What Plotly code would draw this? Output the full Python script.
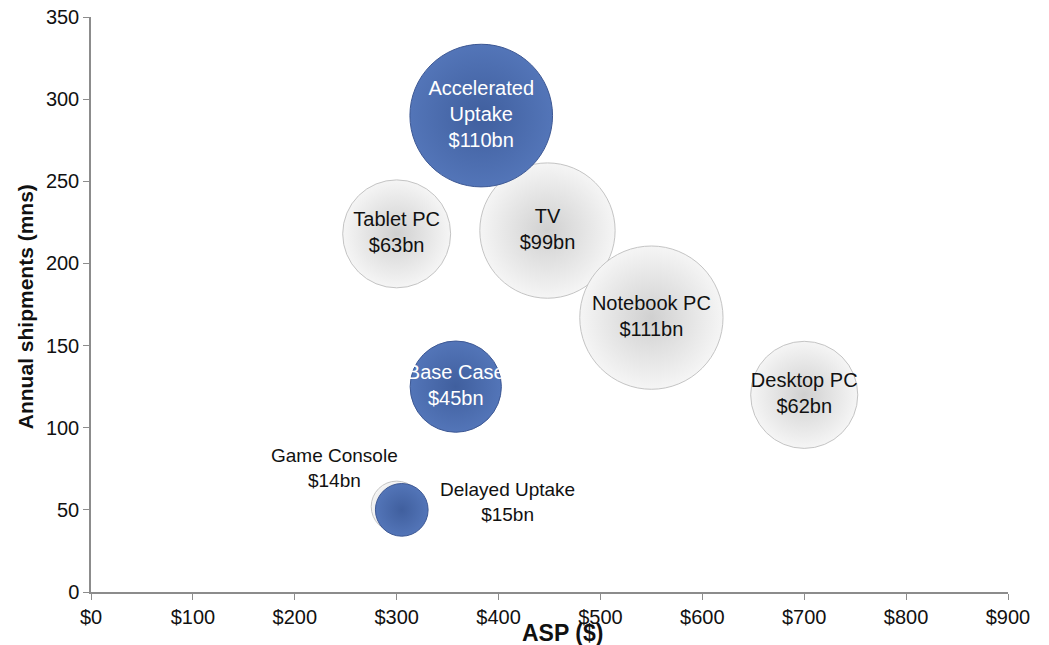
import plotly.graph_objects as go

# grey series: product categories
prod_names = ["Tablet PC", "TV", "Notebook PC", "Desktop PC", "Game Console"]
prod_asp = [300, 448, 550, 700, 300]
prod_units = [218, 220, 167, 120, 52]
prod_value = [63, 99, 111, 62, 14]

# blue series: scenarios
scen_names = ["Base Case", "Delayed Uptake", "Accelerated<br>Uptake"]
scen_asp = [358, 305, 383]
scen_units = [125, 50, 290]
scen_value = [45, 15, 110]

x_ticks = [0, 100, 200, 300, 400, 500, 600, 700, 800, 900]
y_ticks = [0, 50, 100, 150, 200, 250, 300, 350]

FONT = "Liberation Sans, Arial, sans-serif"
SIZEREF = 2 / 13.6 ** 2
TXT = "#111111"

prod_text = [f"{n}<br>${v}bn" for n, v in zip(prod_names, prod_value)]
scen_text = [f"{n}<br>${v}bn" for n, v in zip(scen_names, scen_value)]

fig = go.Figure()

# labels drawn inside bubbles, except the small ones which get annotations
fig.add_trace(go.Scatter(
    x=prod_asp, y=prod_units,
    mode="markers+text",
    text=prod_text[:4] + [""],
    textposition="middle center",
    textfont=dict(family=FONT, size=20, color=TXT),
    marker=dict(
        size=prod_value, sizemode="area", sizeref=SIZEREF,
        color="#f5f5f5",
        gradient=dict(type="radial", color="#d0d0d0"),
        line=dict(color="#c4c4c4", width=1),
        opacity=1,
    ),
    hovertext=prod_text, hoverinfo="text",
    showlegend=False,
))

fig.add_trace(go.Scatter(
    x=scen_asp, y=scen_units,
    mode="markers+text",
    text=[scen_text[0], "", scen_text[2]],
    textposition="middle center",
    textfont=dict(family=FONT, size=20, color="white"),
    marker=dict(
        size=scen_value, sizemode="area", sizeref=SIZEREF,
        color="#5375b8",
        gradient=dict(type="radial", color="#405f9e"),
        line=dict(color="#3d5894", width=1),
        opacity=1,
    ),
    hovertext=scen_text, hoverinfo="text",
    showlegend=False,
))

# page body adds an 8px offset, so the figure is sized to fit inside it
fig.update_layout(
    width=1041, height=637,
    margin=dict(l=83, r=41, t=9, b=53),
    plot_bgcolor="white", paper_bgcolor="white",
    font=dict(family=FONT, size=20, color=TXT),
    xaxis=dict(
        range=[0, 900], tickvals=x_ticks,
        ticktext=[f"${v}" for v in x_ticks],
        showgrid=False, zeroline=False, automargin=False,
        showline=True, linecolor="#8c8c8c", linewidth=1.5,
        ticks="outside", tickcolor="#8c8c8c", ticklen=6,
        tickfont=dict(size=20), ticklabeloverflow="allow",
    ),
    yaxis=dict(
        range=[0, 350], tickvals=y_ticks,
        showgrid=False, zeroline=False, automargin=False,
        showline=True, linecolor="#8c8c8c", linewidth=1.5,
        ticks="outside", tickcolor="#8c8c8c", ticklen=6,
        tickfont=dict(size=20), ticklabeloverflow="allow",
    ),
    annotations=[
        dict(
            text="<b>ASP ($)</b>", xref="paper", yref="paper",
            x=0.514, y=-0.071, xanchor="center", yanchor="middle",
            showarrow=False, font=dict(size=23),
        ),
        dict(
            text="<b>Annual shipments (mns)</b>", xref="paper", yref="paper",
            x=-0.072, y=0.497, xanchor="center", yanchor="middle",
            textangle=-90, showarrow=False, font=dict(size=21),
        ),
        dict(
            text=prod_text[4], x=prod_asp[4], y=prod_units[4],
            xanchor="center", yanchor="bottom", align="center",
            xshift=-62, yshift=14, showarrow=False,
            font=dict(size=19, color=TXT),
        ),
        dict(
            text=scen_text[1], x=scen_asp[1], y=scen_units[1],
            xanchor="center", yanchor="middle", align="center",
            xshift=106, yshift=8, showarrow=False,
            font=dict(size=19, color=TXT),
        ),
    ],
)

fig.write_html("out.html")
